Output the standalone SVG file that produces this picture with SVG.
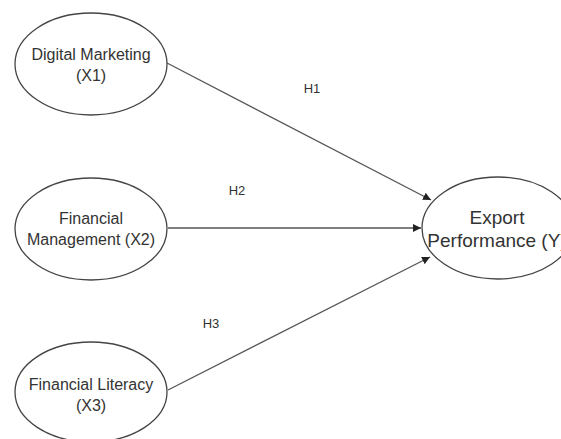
<svg xmlns="http://www.w3.org/2000/svg" width="561" height="439" viewBox="0 0 561 439">
<style>
.node ellipse{fill:#fff;stroke:#444;stroke-width:1.3}
.node text{font-family:"Liberation Sans",Arial,sans-serif;font-size:16px;fill:#333;text-anchor:middle}
.lbl{font-family:"Liberation Sans",Arial,sans-serif;font-size:13px;fill:#333;text-anchor:middle}
.edge{stroke:#555;stroke-width:1.3;fill:none;marker-end:url(#arr)}
</style>
<defs>
<marker id="arr" viewBox="0 0 10 10" refX="10" refY="5" markerWidth="8" markerHeight="8" markerUnits="userSpaceOnUse" orient="auto">
<path d="M0,0 L10,5 L0,10 z" fill="#222"/>
</marker>
</defs>
<rect width="561" height="439" fill="#fff"/>
<g id="connectors">
<line class="edge" x1="167" y1="63" x2="431" y2="200"/>
<line class="edge" x1="168" y1="228" x2="421" y2="228"/>
<line class="edge" x1="168" y1="390" x2="430" y2="257"/>
<text class="lbl" x="312" y="93">H1</text>
<text class="lbl" x="237" y="195">H2</text>
<text class="lbl" x="211" y="328">H3</text>
</g>
<g id="x1" class="node">
<ellipse cx="91" cy="64" rx="76" ry="51"/>
<text x="91" y="60">Digital Marketing</text>
<text x="91" y="81">(X1)</text>
</g>
<g id="x2" class="node">
<ellipse cx="91" cy="229" rx="76" ry="51"/>
<text x="91" y="224">Financial</text>
<text x="91" y="245">Management (X2)</text>
</g>
<g id="x3" class="node">
<ellipse cx="91" cy="392" rx="76" ry="50"/>
<text x="91" y="390">Financial Literacy</text>
<text x="91" y="411">(X3)</text>
</g>
<g id="y" class="node">
<ellipse cx="498" cy="228" rx="76" ry="51"/>
<text x="497" y="224" style="font-size:19px">Export</text>
<text x="497" y="247" style="font-size:19px">Performance (Y)</text>
</g>
</svg>
